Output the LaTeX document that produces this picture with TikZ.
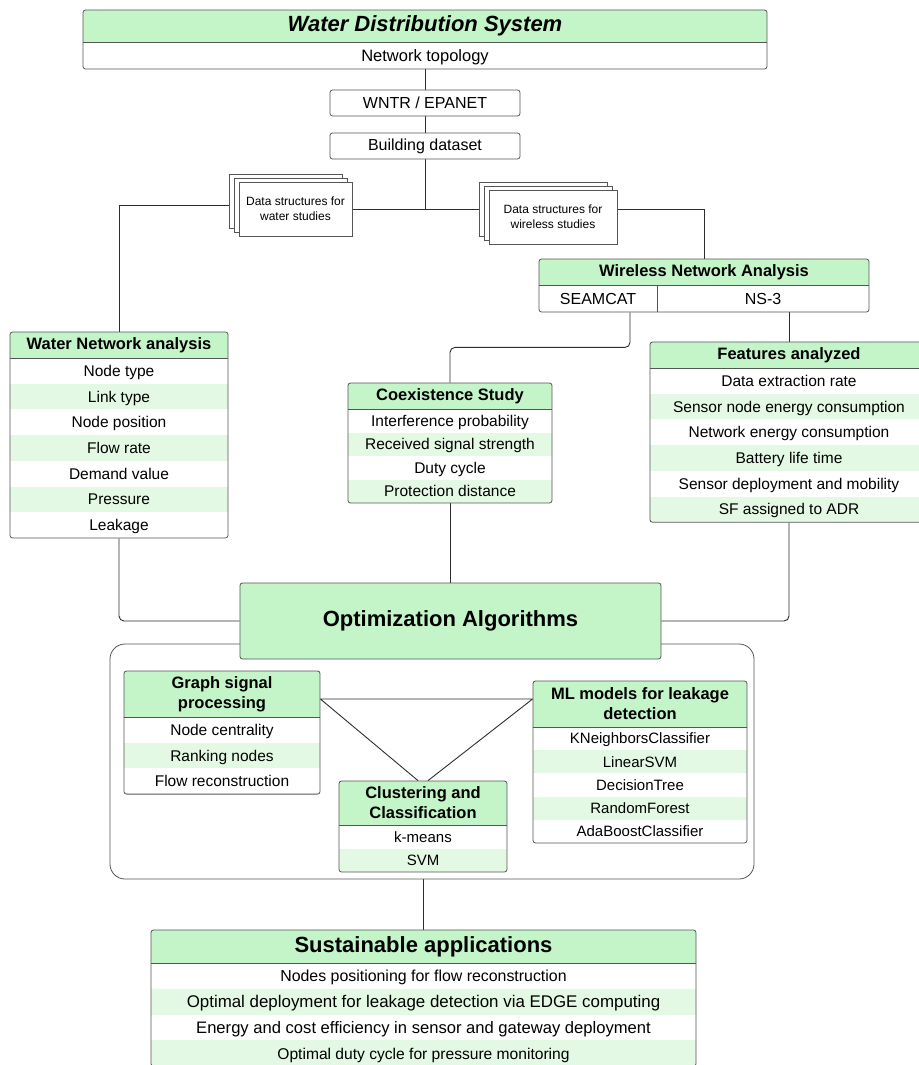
\documentclass[tikz,border=0pt]{standalone}
\usepackage{fontspec}
\setmainfont{Liberation Sans}
\usetikzlibrary{fit,backgrounds,calc}

\definecolor{hdrgreen}{RGB}{196,245,201}
\definecolor{rowgreen}{RGB}{227,249,227}
\definecolor{edgegray}{RGB}{85,85,85}
\definecolor{wire}{RGB}{45,45,45}

\newcommand\fs[2]{\fontsize{#1}{#2}\selectfont}

% #1 name, #2 left, #3 right, #4 top, #5 header bottom, #6 row height,
% #7 number of rows, #8 header text, #9 comma separated rows
\newcommand\tablebox[9]{%
  \pgfmathsetmacro\tbbot{#5+#6*#7}%
  \begin{scope}
    \clip[rounded corners=2.5pt] (#2,#4) rectangle (#3,\tbbot);
    \fill[hdrgreen] (#2,#4) rectangle (#3,#5);
    \foreach \rowtext [count=\i] in {#9} {%
      \ifodd\i\relax\else
        \fill[rowgreen] (#2,{#5+(\i-1)*#6}) rectangle (#3,{#5+\i*#6});
      \fi
      \node[rowtxt] at ({(#2+#3)/2},{#5+(\i-0.5)*#6}) {\rowtext};
    }
  \end{scope}
  \draw[edgegray, line width=0.8pt] (#2,#5) -- (#3,#5);
  \node[hdrtxt] at ({(#2+#3)/2},{(#4+#5)/2}) {#8};
  \node[frame, fit={(#2,#4) (#3,\tbbot)}] (#1) {};
}

\begin{document}
\begin{tikzpicture}[x=1pt,y=-1pt,
  frame/.style={draw=edgegray, line width=0.8pt, rounded corners=2.5pt, inner sep=0pt},
  rowtxt/.style={font=\fs{15.5}{18}, text height=11pt, text depth=0pt, inner sep=0pt},
  hdrtxt/.style={font=\fs{16.5}{20}\bfseries, align=center, inner sep=0pt},
  plainbox/.style={draw=edgegray, fill=white, line width=0.8pt, rounded corners=2.5pt,
    minimum width=190pt, minimum height=26pt, inner sep=0pt, font=\fs{16}{19}},
  stackbox/.style={draw=edgegray, fill=white, line width=0.8pt, inner sep=0pt,
    align=center, font=\fs{12}{15}},
  wire/.style={draw=wire, line width=0.9pt}]
\useasboundingbox (0,0) rectangle (918,1065);

% Water distribution system
\begin{scope}[rowtxt/.append style={font=\fs{16.5}{20}, text height=11.8pt}]
\tablebox{top}{83}{767}{10}{42}{27}{1}{\fs{22}{26}\itshape Water Distribution System}{Network topology}
\end{scope}

\node[plainbox] (wntr) at (425,103) {WNTR / EPANET};
\node[plainbox] (bds) at (425,146) {Building dataset};

% stacked data structure documents
\begin{scope}[stackbox/.append style={minimum width=113pt, minimum height=54pt}]
\node[stackbox] (wds3) at (285.5,201) {};
\node[stackbox] (wds2) at (290.5,205) {};
\node[stackbox] (wds) at (295.5,209) {Data structures for\\water studies};
\end{scope}
\begin{scope}[stackbox/.append style={minimum width=128pt, minimum height=54pt}]
\node[stackbox] (wls3) at (543,209) {};
\node[stackbox] (wls2) at (548,213) {};
\node[stackbox] (wls) at (553,217) {Data structures for\\wireless studies};
\end{scope}

% Wireless network analysis
\tablebox{wnet}{539}{869}{259}{285}{27}{1}{Wireless Network Analysis}{~}
\draw[edgegray, line width=0.8pt] (657,285) -- (657,312);
\node[rowtxt, font=\fs{16}{19}, text height=11.5pt] (seam) at (598,298.5) {SEAMCAT};
\node[rowtxt, font=\fs{16}{19}, text height=11.5pt] (ns3) at (763,298.5) {NS-3};

% Water network analysis
\tablebox{wna}{10}{228}{332}{358}{25.7}{7}{Water Network analysis}{Node type,Link type,Node position,Flow rate,Demand value,Pressure,Leakage}

% Coexistence study
\tablebox{coex}{348}{552}{383}{409}{23.5}{4}{Coexistence Study}{Interference probability,Received signal strength,Duty cycle,Protection distance}

% Features analyzed
\tablebox{feat}{650}{928}{342}{368}{25.7}{6}{Features analyzed}{Data extraction rate,Sensor node energy consumption,Network energy consumption,Battery life time,Sensor deployment and mobility,SF assigned to ADR}

% Algorithm group
\node[draw=edgegray, line width=0.8pt, rounded corners=15pt, inner sep=0pt,
  fit={(110,644) (754,879)}] (cont) {};
\node[draw=edgegray, fill=hdrgreen, line width=0.8pt, rounded corners=2.5pt,
  minimum width=421pt, minimum height=76pt, inner sep=0pt,
  font=\fs{22}{26}\bfseries] (opt) at (450.5,621) {Optimization Algorithms};

\tablebox{gsp}{124}{320}{671}{717}{25.7}{3}{Graph signal\\processing}{Node centrality,Ranking nodes,Flow reconstruction}
\begin{scope}[rowtxt/.append style={font=\fs{15}{18}, text height=10.7pt}]
\tablebox{ml}{533}{747}{681}{727}{23.2}{5}{ML models for leakage\\detection}{KNeighborsClassifier,LinearSVM,DecisionTree,RandomForest,AdaBoostClassifier}
\tablebox{clu}{339}{507}{781}{825}{23.5}{2}{Clustering and\\Classification}{k-means,SVM}
\end{scope}

% Sustainable applications
\begin{scope}[rowtxt/.append style={font=\fs{16}{19}, text height=11.5pt}]
\tablebox{sus}{151}{696}{930}{963}{25.8}{4}{\fs{22}{26}Sustainable applications}{\fs{15.9}{19}Nodes positioning for flow reconstruction,\fs{16.9}{20}Optimal deployment for leakage detection via EDGE computing,\fs{16.6}{20}Energy and cost efficiency in sensor and gateway deployment,\fs{15.6}{19}Optimal duty cycle for pressure monitoring}
\end{scope}

\coordinate (tri) at (0,699);

% connectors
\begin{scope}[on background layer]
\draw[wire] (wntr.north |- top.south) -- (wntr.north);
\draw[wire] (wntr.south) -- (bds.north);
\draw[wire] (bds.south) -- (bds.south |- wds.east);
\draw[wire] (wds.east) -- (wls3.west);
\draw[wire] (wna.north) |- (wds2.west);
\draw[wire] (wls3.east) -| (wnet.north);
\draw[wire, rounded corners=5pt] ([xshift=-74pt]wnet.south) -- ++(0,35) -| (coex.north);
\draw[wire] (feat.north |- wnet.south) -- (feat.north);
\draw[wire, rounded corners=5pt] (wna.south) |- (opt.west);
\draw[wire, rounded corners=5pt] (feat.south) |- (opt.east);
\draw[wire] (coex.south) -- (coex.south |- opt.north);
\draw[wire] ([xshift=-5pt]clu.north) -- (gsp.east |- tri) -- (ml.west |- tri) -- ([xshift=5pt]clu.north);
\draw[wire] (sus.north) -- (sus.north |- cont.south);
\end{scope}
\end{tikzpicture}
\end{document}
